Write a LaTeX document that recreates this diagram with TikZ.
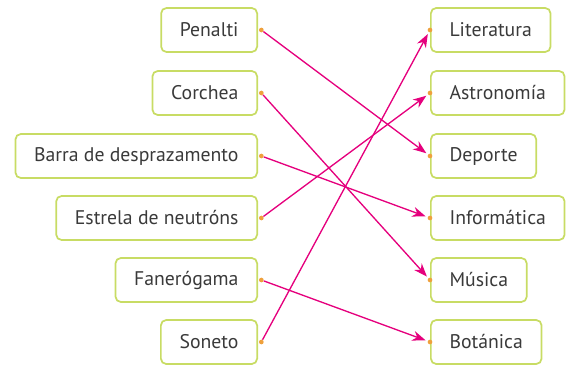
\documentclass[tikz,border=0pt]{standalone}
\usepackage{fontspec}
\setmainfont{PT Sans}
\usetikzlibrary{arrows.meta}
\definecolor{boxline}{HTML}{C8DC64}
\definecolor{linkpink}{HTML}{E5007D}
\definecolor{dotorange}{HTML}{EFA03C}
\definecolor{wordgray}{HTML}{3A3A3A}
\tikzset{
  word/.style={draw=boxline, line width=1.3pt, rounded corners=4pt, fill=white,
    minimum height=33pt, inner xsep=14pt, text=wordgray, font=\fontsize{14.8}{16}\selectfont},
  lword/.style={word, anchor=east},
  rword/.style={word, anchor=west},
  spot/.style={circle, fill=dotorange, inner sep=0pt, minimum size=3.5pt},
  link/.style={draw=linkpink, line width=1pt, -{Stealth[length=10pt,width=7.5pt]}, shorten >=1.5pt}
}
\begin{document}
\begin{tikzpicture}[x=0.75pt,y=-0.75pt]
\useasboundingbox (0,0) rectangle (566,367);
% left column
\node[lword] (penalti) at (258,30) {Penalti};
\node[lword] (corchea) at (258,93) {Corchea};
\node[lword] (barra) at (258,156) {Barra de desprazamento};
\node[lword] (estrela) at (258,218) {Estrela de neutróns};
\node[lword] (fanero) at (258,280) {Fanerógama};
\node[lword] (soneto) at (258,342) {Soneto};
% right column
\node[rword] (literatura) at (430,30) {Literatura};
\node[rword] (astronomia) at (430,93) {Astronomía};
\node[rword] (deporte) at (430,156) {Deporte};
\node[rword] (informatica) at (430,218) {Informática};
\node[rword] (musica) at (430,280) {Música};
\node[rword] (botanica) at (430,342) {Botánica};
% dots
\node[spot] (p0) at ([xshift=2.5pt]penalti.east) {};
\node[spot] (c0) at ([xshift=2.5pt]corchea.east) {};
\node[spot] (b0) at ([xshift=2.5pt]barra.east) {};
\node[spot] (e0) at ([xshift=2.5pt]estrela.east) {};
\node[spot] (f0) at ([xshift=2.5pt]fanero.east) {};
\node[spot] (s0) at ([xshift=2.5pt]soneto.east) {};
\node[spot] (l1) at (literatura.west) {};
\node[spot] (a1) at (astronomia.west) {};
\node[spot] (d1) at (deporte.west) {};
\node[spot] (i1) at (informatica.west) {};
\node[spot] (m1) at (musica.west) {};
\node[spot] (t1) at (botanica.west) {};
% links
\draw[link] (p0)--(d1);
\draw[link] (c0)--(m1);
\draw[link] (b0)--(i1);
\draw[link] (e0)--(a1);
\draw[link] (f0)--(t1);
\draw[link] (s0)--(l1);
\end{tikzpicture}
\end{document}
